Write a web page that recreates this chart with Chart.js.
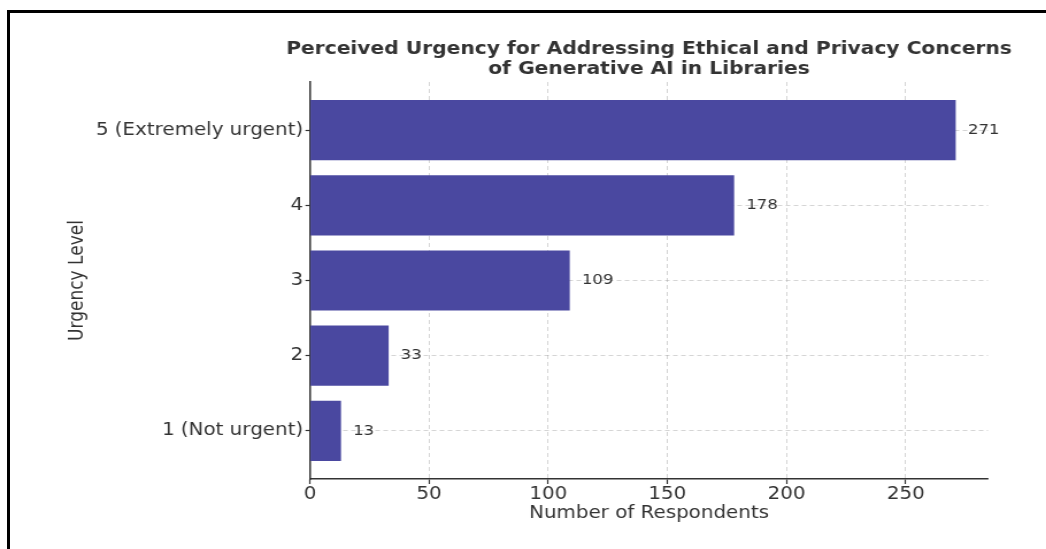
<!DOCTYPE html>
<html>
<head>
<meta charset="utf-8">
<script src="https://cdn.jsdelivr.net/npm/chart.js@4.4.0/dist/chart.umd.min.js"></script>
<style>
  html, body { margin: 0; padding: 0; background: #fff; overflow: hidden; }
  body { width: 1046px; height: 549px; position: relative; }
  #frame {
    position: absolute; left: 7px; top: 10px; width: 1060px; height: 600px;
    border-top: 3px solid #000; border-left: 3px solid #000;
  }
  #wrap {
    position: absolute; left: 0; top: 0; width: 910px; height: 549px;
    transform: scaleX(1.1495); transform-origin: 0 0;
  }
</style>
</head>
<body>
<div id="frame"></div>
<div id="wrap"><canvas id="urgencyChart" width="910" height="549"></canvas></div>
<script>
// data
const levels = [1, 2, 3, 4, 5];
const levelLabels = ['1 (Not urgent)', '2', '3', '4', '5 (Extremely urgent)'];
const respondents = [13, 33, 109, 178, 271];
const xTicks = [0, 50, 100, 150, 200, 250];

const titleLines = [
    'Perceived Urgency for Addressing Ethical and Privacy Concerns',
    'of Generative AI in Libraries'
];

Chart.defaults.font.family = '"DejaVu Sans", sans-serif';
Chart.defaults.color = '#333';

// title centred over the plot area + value labels next to bars
const extras = {
    id: 'extras',
    afterDraw(chart) {
        const ctx = chart.ctx;
        const area = chart.chartArea;
        ctx.save();
        ctx.fillStyle = '#333';
        ctx.textAlign = 'center';
        ctx.textBaseline = 'middle';
        ctx.font = 'bold 17.6px "DejaVu Sans"';
        const cx = (area.left + area.right) / 2;
        ctx.fillText(titleLines[0], cx, 49);
        ctx.fillText(titleLines[1], cx, 69);

        ctx.font = '14.5px "DejaVu Sans"';
        ctx.textAlign = 'left';
        chart.getDatasetMeta(0).data.forEach((bar, i) => {
            ctx.fillText(String(respondents[i]), bar.x + 10.5, bar.y);
        });
        ctx.restore();
    }
};

const gridStyle = {
    color: 'rgba(150,150,150,0.5)',
    lineWidth: 0.8,
    tickColor: '#333',
    tickWidth: 1.2,
    offset: false
};

new Chart(document.getElementById('urgencyChart'), {
    type: 'bar',
    data: {
        datasets: [{
            data: levels.map((lvl, i) => ({ x: respondents[i], y: lvl })),
            backgroundColor: '#4a48a0',
            borderWidth: 0,
            barPercentage: 0.8,
            categoryPercentage: 1
        }]
    },
    options: {
        indexAxis: 'y',
        responsive: false,
        animation: false,
        layout: { padding: { left: 0, right: 50.5, top: 82, bottom: 0 } },
        plugins: {
            legend: { display: false },
            tooltip: { enabled: false }
        },
        scales: {
            x: {
                type: 'linear',
                min: 0,
                max: 284.55,
                z: 1,
                offset: false,
                afterBuildTicks: s => { s.ticks = xTicks.map(v => ({ value: v })); },
                afterFit: s => { s.height = 70; },
                ticks: { font: { size: 17.3 }, padding: 0, maxRotation: 0 },
                grid: { ...gridStyle, tickLength: 5 },
                border: { display: true, color: '#333', width: 1.5, dash: [4, 3] },
                title: {
                    display: true,
                    text: 'Number of Respondents',
                    font: { size: 17.3 },
                    padding: { top: 0, bottom: 25 }
                }
            },
            y: {
                type: 'linear',
                min: 0.36,
                max: 5.64,
                z: 1,
                offset: false,
                afterBuildTicks: s => { s.ticks = levels.map(v => ({ value: v })); },
                afterFit: s => { s.width = 269.7; },
                ticks: {
                    font: { size: 17.3 },
                    padding: 2,
                    callback: v => levelLabels[levels.indexOf(v)]
                },
                grid: { ...gridStyle, tickLength: 4 },
                border: { display: true, color: '#333', width: 1.5, dash: [4, 3] },
                title: {
                    display: true,
                    text: 'Urgency Level',
                    font: { size: 17 },
                    padding: { top: 57, bottom: 0 }
                }
            }
        }
    },
    plugins: [extras]
});
</script>
</body>
</html>
